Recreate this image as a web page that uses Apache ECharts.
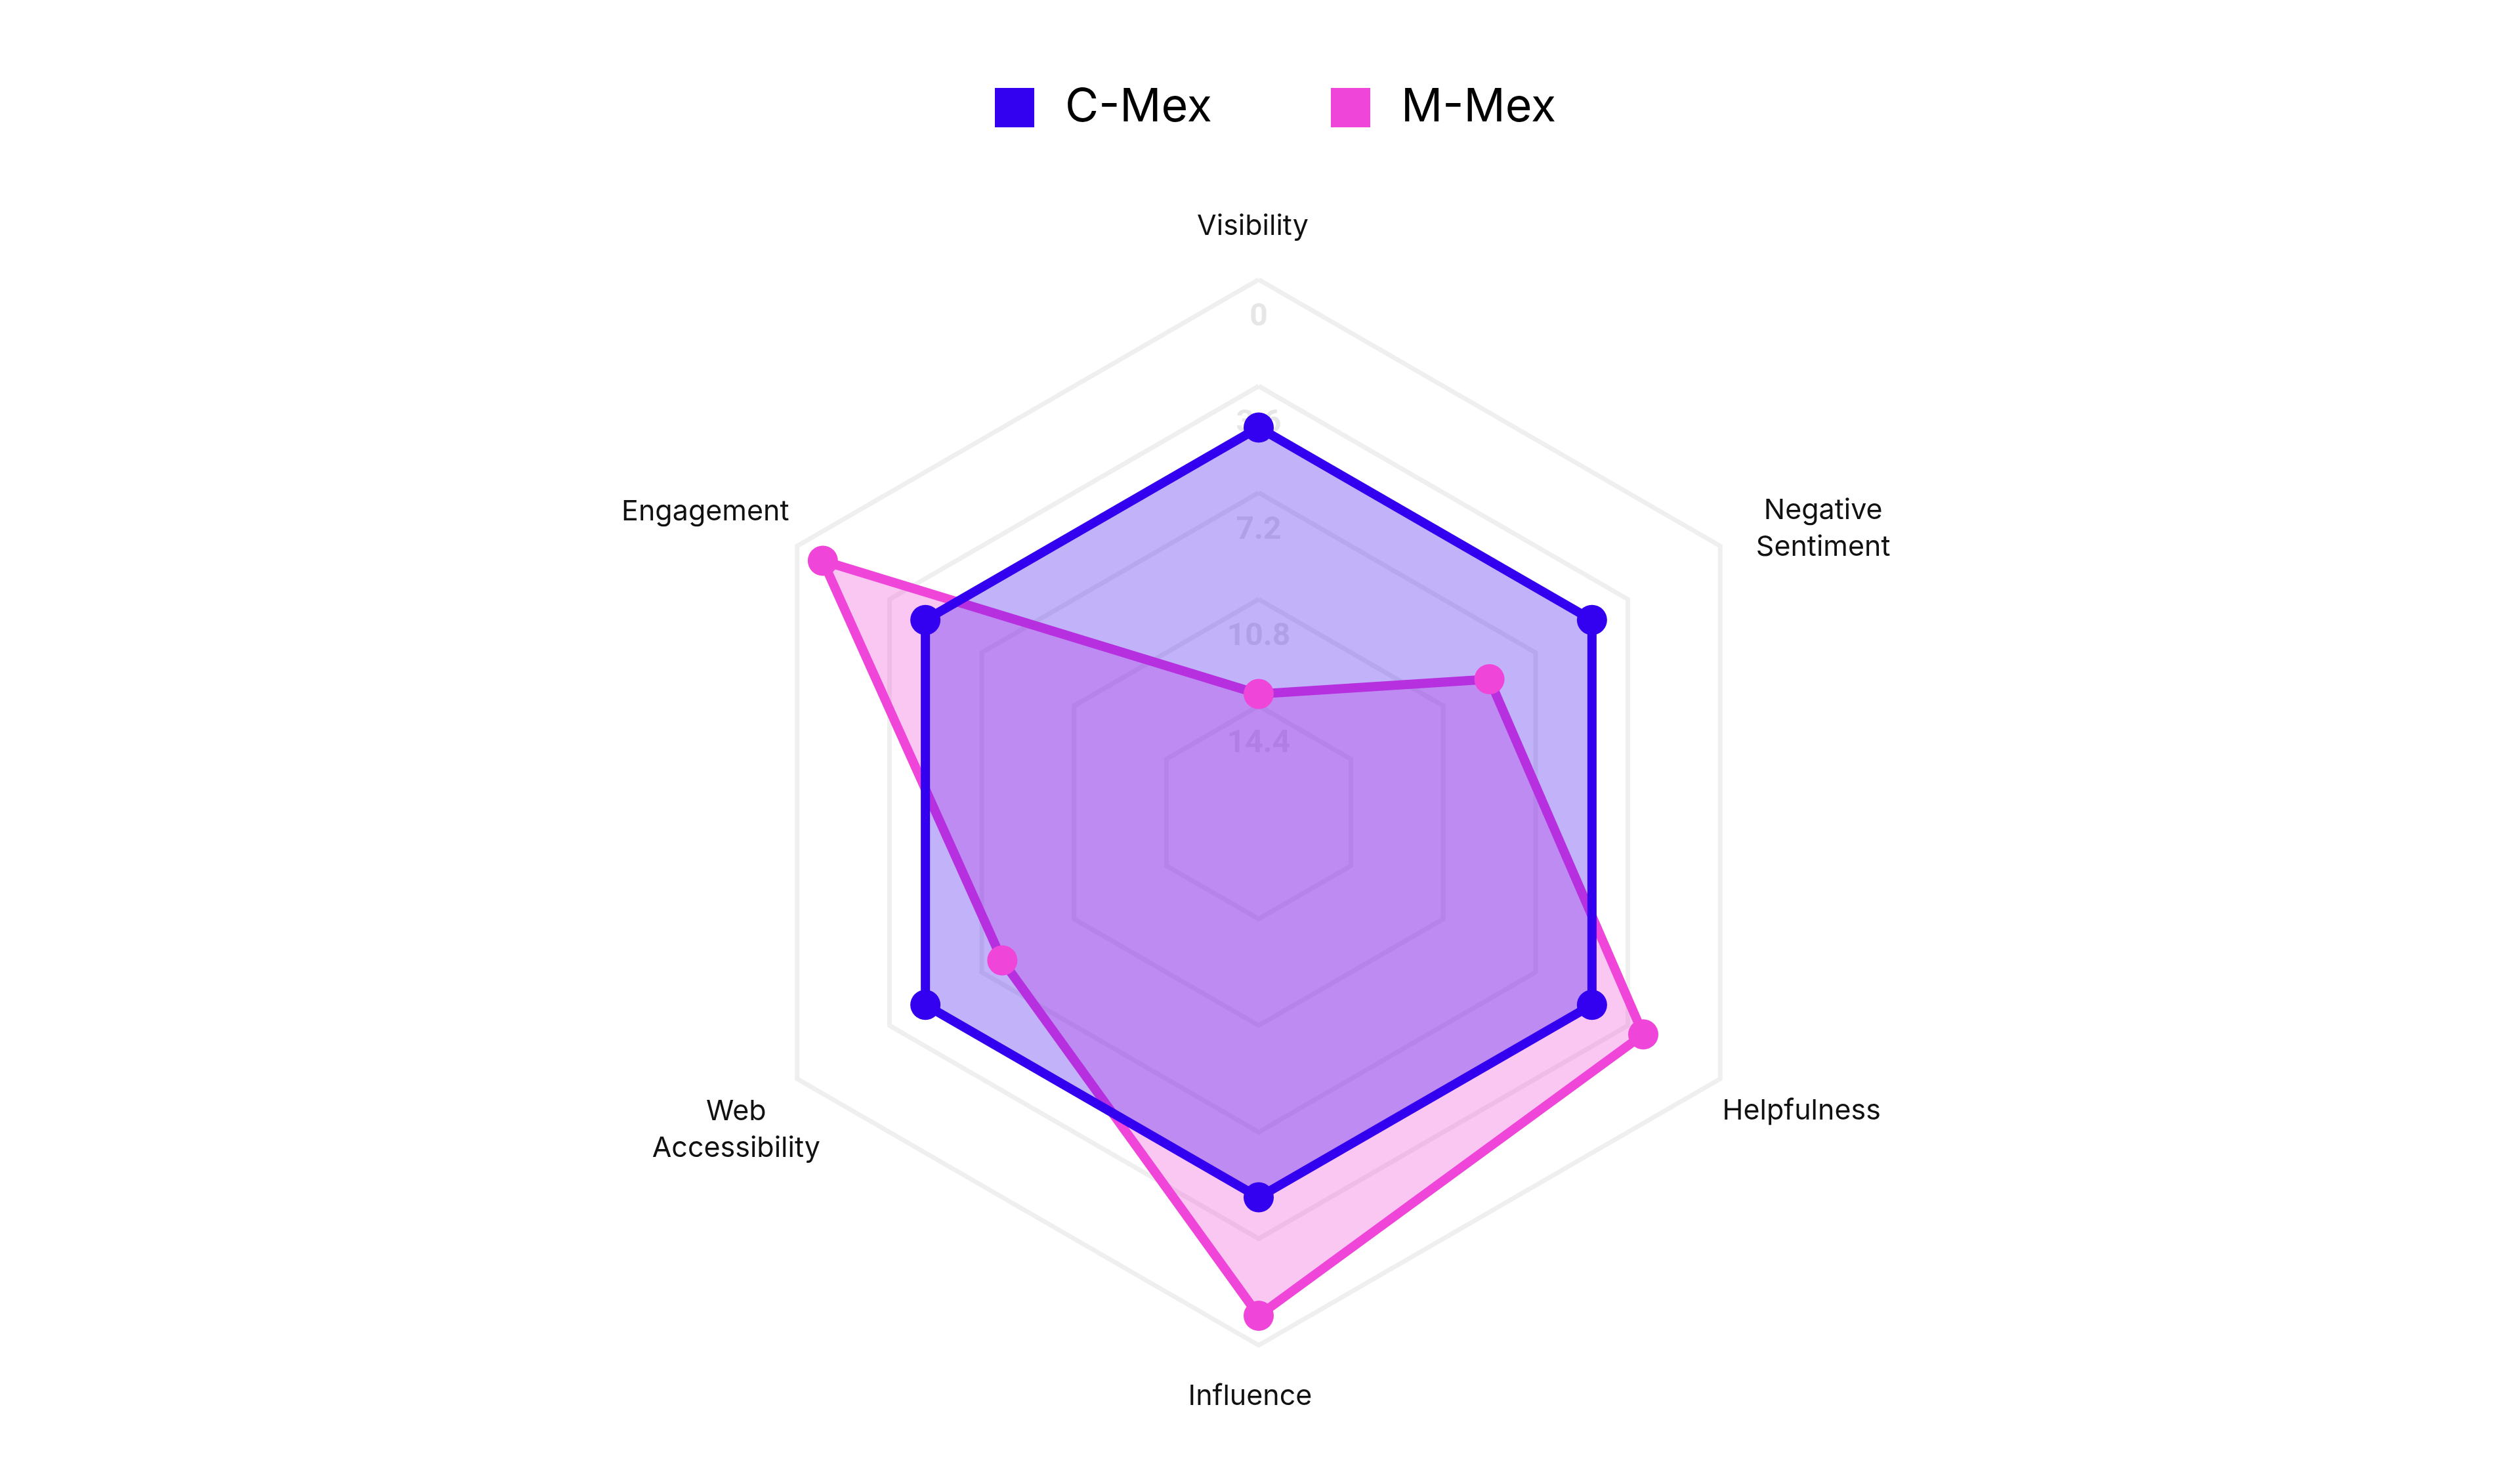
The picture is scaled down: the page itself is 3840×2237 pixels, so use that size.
<!DOCTYPE html>
<html>
<head>
<meta charset="utf-8">
<script src="https://cdn.jsdelivr.net/npm/echarts@6/dist/echarts.min.js"></script>
<style>
html,body{margin:0;padding:0;background:#fff;}
#chart{width:3840px;height:2237px;}
</style>
</head>
<body>
<div id="chart"></div>
<script>
// Indicators listed in ECharts drawing order (counter-clockwise from top)
const categories = ['Visibility', 'Engagement', 'Web\nAccessibility', 'Influence', 'Helpfulness', 'Negative\nSentiment'];
const seriesNames = ['C-Mex', 'M-Mex'];
const cMex = [5, 5, 5, 5, 5, 5];
const mMex = [14, 1, 8, 1, 3, 9];
// Axis runs from 0 at the rim to 18 at the centre
const axisMin = 0;
const axisMax = 18;
const tickStep = 3.6;

// Style: label centre offsets (px) from each rim vertex, per category index
const nameOffsets = [[-9, -81], [-140, -52], [-93, 78], [-13, 78], [124, 49], [157, -26]];
const nameGap = 60;

const colors = {'C-Mex': '#3300f0', 'M-Mex': '#ef45d8'};
const nameBase = {fontFamily: 'Inter', fontSize: 43, lineHeight: 56, color: '#111'};
const rich = {};
const nameKey = {};
categories.forEach((name, idx) => {
  const lines = name.split('\n');
  const ang = Math.PI / 2 + idx * Math.PI * 2 / categories.length;
  const dx = Math.round(nameOffsets[idx][0] - nameGap * Math.cos(ang));
  const dy = Math.round(nameOffsets[idx][1] + nameGap * Math.sin(ang));
  const padL = dx > 0 ? 2 * dx : 0, padR = dx < 0 ? -2 * dx : 0;
  rich['n' + idx] = Object.assign({}, nameBase, {padding: [0, padR, 0, padL]});
  let parts = lines.map(ln => '{n' + idx + '|' + ln + '}');
  if (dy !== 0) {
    rich['s' + idx] = {fontSize: 1, lineHeight: 2 * Math.abs(dy)};
    if (dy > 0) parts = ['{s' + idx + '| }'].concat(parts);
    else parts = parts.concat(['{s' + idx + '| }']);
  }
  nameKey[name] = parts.join('\n');
});

const chart = echarts.init(document.getElementById('chart'));
const option = {
  backgroundColor: '#ffffff',
  animation: false,
  legend: {
    data: seriesNames,
    top: 124,
    left: 1511,
    icon: 'rect',
    itemWidth: 60,
    itemHeight: 60,
    itemGap: 181,
    textStyle: {fontFamily: 'Inter', fontSize: 70, color: '#000', padding: [0, 0, 0, 42]}
  },
  radar: {
    center: [1918, 1238],
    radius: 812,
    shape: 'polygon',
    splitNumber: 5,
    startAngle: 90,
    nameGap: nameGap,
    axisName: {
      color: '#111', fontFamily: 'Inter', fontSize: 43, lineHeight: 56,
      align: 'center', verticalAlign: 'middle',
      formatter: (name) => nameKey[name] || name,
      rich: rich
    },
    // values are plotted negated so that 0 sits on the rim and 18 at the centre
    indicator: categories.map((n, i) => ({
      name: n, min: -axisMax, max: -axisMin,
      nameMoveOverlap: false,
      axisLabel: {show: i === 0}
    })),
    axisLine: {show: false},
    axisTick: {show: false},
    splitArea: {show: false},
    splitLine: {lineStyle: {color: '#efefef', width: 7}},
    axisLabel: {
      show: true, showMinLabel: false, showMaxLabel: true, margin: 0, align: 'center', verticalAlign: 'top',
      padding: [34, 0, 0, 0], color: '#e6e6e6', fontFamily: 'Roboto', fontWeight: 'bold', fontSize: 48,
      formatter: (v) => String(Math.abs(Math.round(v / tickStep) * tickStep).toFixed(1)).replace(/\.0$/, '')
    }
  },
  series: [
    {
      name: 'M-Mex', type: 'radar', symbol: 'circle', symbolSize: 46,
      lineStyle: {width: 14, color: colors['M-Mex']},
      itemStyle: {color: colors['M-Mex']},
      areaStyle: {color: colors['M-Mex'], opacity: 0.3},
      data: [{name: 'M-Mex', value: mMex.map(v => -v)}]
    },
    {
      name: 'C-Mex', type: 'radar', symbol: 'circle', symbolSize: 46,
      lineStyle: {width: 14, color: colors['C-Mex']},
      itemStyle: {color: colors['C-Mex']},
      areaStyle: {color: colors['C-Mex'], opacity: 0.3},
      data: [{name: 'C-Mex', value: cMex.map(v => -v)}]
    }
  ]
};
chart.setOption(option);
</script>
</body>
</html>
